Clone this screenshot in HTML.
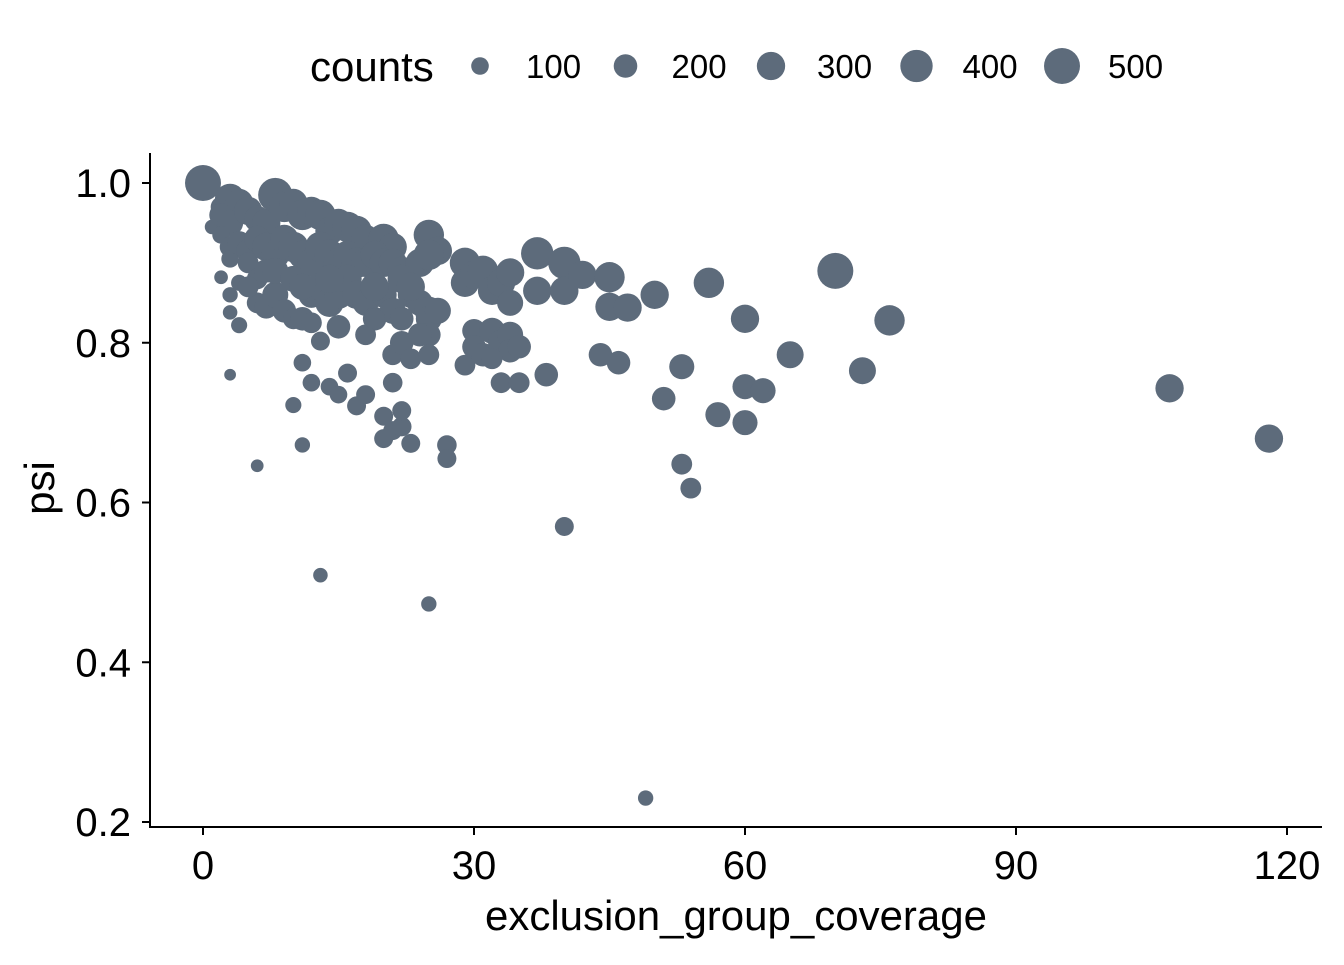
<!DOCTYPE html>
<html><head><meta charset="utf-8"><style>
body{margin:0;background:#fff;}
svg text{font-family:"Liberation Sans",Arial,sans-serif;}
</style></head><body>
<svg id="chart" width="1344" height="960">
<g id="legend"></g>
<g id="points"></g>
<g id="axes"></g>
</svg>
<script>
const xs=[0,1,2,3,4,2,3,5,6,7,8,9,10,11,12,13,14,15,16,17,18,20,21,25,26,
2,3,3,4,5,5,6,7,8,9,10,11,12,13,14,15,16,17,18,19,20,21,22,24,25,
5,6,7,8,9,10,11,12,12,13,14,15,15,16,17,18,19,20,21,22,23,24,25,25,25,26,
6,7,8,10,11,14,19,22,23,
2,3,4,5,3,4,3,6,
10,11,11,12,13,13,14,15,16,17,18,18,19,20,20,21,21,21,22,22,22,23,23,24,25,25,27,27,
29,29,30,31,32,33,34,34,37,37,40,40,42,45,45,47,50,56,60,70,76,
29,30,30,31,32,33,34,34,35,32,33,35,38,40,44,46,49,51,53,53,54,57,60,60,62,65,73,107,118];
const psi=[1.0,0.945,0.97,0.98,0.975,0.96,0.95,0.965,0.955,0.95,0.985,0.97,0.975,0.96,0.965,0.96,0.94,0.95,0.945,0.94,0.93,0.93,0.92,0.935,0.915,
0.935,0.92,0.905,0.925,0.915,0.9,0.93,0.92,0.91,0.93,0.92,0.91,0.9,0.92,0.91,0.9,0.91,0.9,0.9,0.91,0.9,0.9,0.89,0.9,0.91,
0.87,0.85,0.845,0.86,0.84,0.83,0.83,0.825,0.86,0.87,0.85,0.82,0.86,0.88,0.86,0.85,0.83,0.86,0.84,0.83,0.86,0.85,0.84,0.83,0.81,0.84,
0.88,0.89,0.89,0.88,0.87,0.88,0.87,0.88,0.87,
0.882,0.86,0.875,0.87,0.838,0.822,0.76,0.646,
0.722,0.775,0.672,0.75,0.802,0.509,0.745,0.735,0.762,0.721,0.735,0.81,0.83,0.708,0.68,0.69,0.75,0.785,0.8,0.695,0.715,0.674,0.78,0.81,0.785,0.473,0.672,0.655,
0.9,0.875,0.885,0.89,0.865,0.875,0.888,0.85,0.912,0.865,0.9,0.865,0.885,0.882,0.845,0.844,0.86,0.875,0.83,0.89,0.828,
0.772,0.815,0.795,0.785,0.815,0.8,0.81,0.79,0.795,0.78,0.75,0.75,0.76,0.57,0.785,0.775,0.23,0.73,0.77,0.648,0.618,0.71,0.745,0.7,0.74,0.785,0.765,0.743,0.68];
const counts=[500,60,150,350,300,200,250,300,250,300,450,350,300,350,300,350,300,300,350,350,300,350,300,350,300,
100,150,100,200,200,150,250,300,300,300,350,300,300,350,350,350,300,350,300,300,300,300,300,300,350,
100,150,200,250,200,150,200,150,250,300,300,200,300,300,300,250,200,250,250,200,250,250,300,250,200,250,
150,200,250,250,250,300,300,300,300,
50,70,80,150,60,80,30,40,
80,100,70,100,120,60,100,100,120,120,120,150,150,120,120,120,130,150,200,130,120,120,150,200,150,70,130,120,
350,300,300,350,300,300,300,250,400,300,400,300,300,350,300,300,300,350,300,500,350,
150,200,200,200,250,250,250,200,200,150,150,150,200,120,200,200,70,200,230,150,150,230,230,230,230,270,270,300,300];
const xTicks=[0,30,60,90,120];
const yTicks=[0.2,0.4,0.6,0.8,1.0];
const legendVals=[100,200,300,400,500];

const NS="http://www.w3.org/2000/svg";
const X=v=>203+(v)*(1287-203)/120;
const Y=v=>183+(1.0-v)*(822-183)/0.8;
const R=c=>Math.sqrt(16+0.615*c);
const COL="#5d6b7b";
function mk(tag,attrs,parent){const e=document.createElementNS(NS,tag);for(const k in attrs)e.setAttribute(k,attrs[k]);parent.appendChild(e);return e;}

const pg=document.getElementById('points');
for(let i=0;i<xs.length;i++){
  const c=mk('circle',{cx:X(xs[i]),cy:Y(psi[i]),r:R(counts[i]),fill:COL},pg);
  
  
}
const ax=document.getElementById('axes');
let l=mk('line',{x1:150,y1:153,x2:150,y2:828,stroke:'#000','stroke-width':2},ax);


l=mk('line',{x1:149,y1:827,x2:1322,y2:827,stroke:'#000','stroke-width':2},ax);


xTicks.forEach(t=>{
  const tk=mk('line',{x1:X(t),y1:827,x2:X(t),y2:835,stroke:'#000','stroke-width':2},ax);
  
  
  const tx=mk('text',{x:X(t),y:879,'font-size':40,'text-anchor':'middle',fill:'#000'},ax);
  tx.textContent=t;
  
  
});
yTicks.forEach(t=>{
  const tk=mk('line',{x1:142,y1:Y(t),x2:150,y2:Y(t),stroke:'#000','stroke-width':2},ax);
  
  
  const tx=mk('text',{x:131,y:Y(t)+14,'font-size':40,'text-anchor':'end',fill:'#000'},ax);
  tx.textContent=t.toFixed(1);
  
  
});
let tt=mk('text',{x:736,y:930,'font-size':42,'text-anchor':'middle',fill:'#000'},ax);
tt.textContent='exclusion_group_coverage';


tt=mk('text',{x:0,y:0,'font-size':42,'text-anchor':'middle',fill:'#000',transform:'translate(54,488) rotate(-90)'},ax);
tt.textContent='psi';



const lg=document.getElementById('legend');
tt=mk('text',{x:310,y:81,'font-size':42,fill:'#000'},lg);
tt.textContent='counts';


legendVals.forEach((v,i)=>{
  const cx=480+i*145.5;
  const c=mk('circle',{cx:cx,cy:66,r:R(v),fill:COL},lg);
  
  
  const t=mk('text',{x:cx+46,y:78,'font-size':33,fill:'#000'},lg);
  t.textContent=v;
  
  
});
</script>
</body></html>
